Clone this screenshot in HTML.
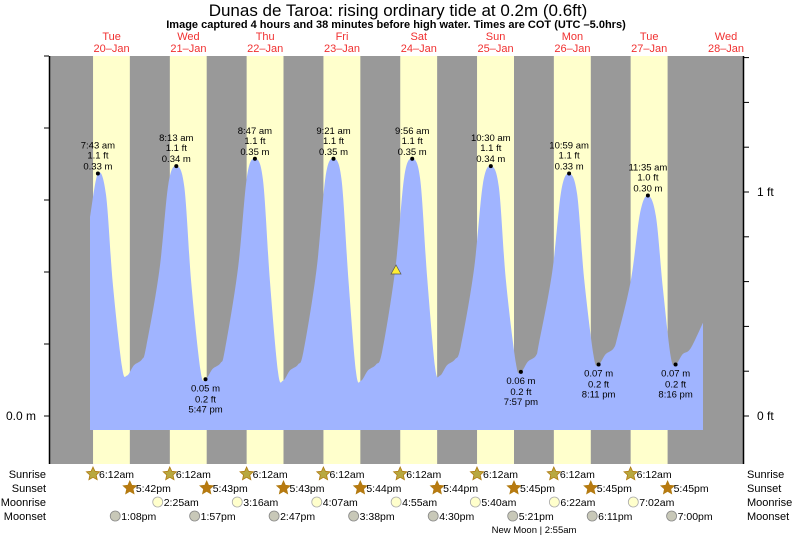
<!DOCTYPE html>
<html><head><meta charset="utf-8"><style>
body{margin:0;background:#fff;width:793px;height:537px;overflow:hidden}
svg{font-family:"Liberation Sans",sans-serif}
</style></head><body>
<svg id="s" width="793" height="537" xmlns="http://www.w3.org/2000/svg"></svg>
<script>
const s=document.getElementById('s');let h='';
const X0=73.2,D=76.8;
const xt=(d,hr)=>X0+D*(d+hr/24);
const Y=m=>416-735*m;
h+='<rect x="50" y="56" width="693" height="408" fill="#999"/>';
const sunset=[17.7,17.72,17.72,17.73,17.73,17.75,17.75,17.75];
for(let d=0;d<8;d++){const a=xt(d,6.2),b=xt(d,sunset[d]);h+=`<rect x="${a}" y="56" width="${b-a}" height="408" fill="#ffffcc"/>`;}
// tide
const peaks=[[97.9,0.33],[176.3,0.34],[254.9,0.35],[333.5,0.35],[412.2,0.35],[490.8,0.34],[569.1,0.33],[647.9,0.30]];
const lows=[[127,0.055],[205.5,0.05],[283,0.048],[361,0.048],[440,0.055],[520.9,0.06],[598.6,0.07],[675.6,0.07]];
let pts=[[90,0.27]];
for(let i=0;i<8;i++){
 const [xp,pm]=peaks[i],[xl,lm]=lows[i];
 if(i>0)pts.push([xp-8,pm-0.025]);
 pts.push([xp,pm]);pts.push([xp+8,pm-0.028]);
 pts.push([xp+15,lm+(pm-lm)*0.45]);
 pts.push([xl-5,lm+0.012]);
 pts.push([xl,lm]);
 pts.push([xl+7,lm+0.014]);
 pts.push([xl+15,lm+0.022]);
 if(i<7){const [xn,pn]=peaks[i+1];
  pts.push([xn-30,lm+0.04]);
  pts.push([xn-17,lm+(pn-lm)*0.5]);
 }else{pts.push([703,0.127]);}
}
let p=`M90,430 L${pts[0][0]},${Y(pts[0][1])}`;
for(let i=0;i<pts.length-1;i++){
 const p0=pts[Math.max(0,i-1)],p1=pts[i],p2=pts[i+1],p3=pts[Math.min(pts.length-1,i+2)];
 const c1x=p1[0]+(p2[0]-p0[0])/6,c1y=Y(p1[1])+(Y(p2[1])-Y(p0[1]))/6;
 const c2x=p2[0]-(p3[0]-p1[0])/6,c2y=Y(p2[1])-(Y(p3[1])-Y(p1[1]))/6;
 p+=` C${c1x.toFixed(1)},${c1y.toFixed(1)} ${c2x.toFixed(1)},${c2y.toFixed(1)} ${p2[0].toFixed(1)},${Y(p2[1]).toFixed(1)}`;
}
p+=' L703,430 Z';
h+=`<path d="${p}" fill="#a0b4ff"/>`;
// axes
h+='<line x1="49.5" y1="56" x2="49.5" y2="464" stroke="#000" stroke-width="1.5"/>';
h+='<line x1="743.5" y1="56" x2="743.5" y2="464" stroke="#000" stroke-width="1.5"/>';
for(let k=0;k<6;k++){const y=416-72*k;h+=`<line x1="44" y1="${y}" x2="49" y2="${y}" stroke="#000"/>`;}
for(let k=0;k<9;k++){const y=416-44.8*k;h+=`<line x1="744" y1="${y}" x2="749" y2="${y}" stroke="#000"/>`;}
h+='<text x="6" y="420" font-size="12">0.0 m</text><text x="757" y="420" font-size="12">0 ft</text><text x="757" y="196" font-size="12">1 ft</text>';
// title
h+='<text x="398" y="16" font-size="17" text-anchor="middle">Dunas de Taroa: rising  ordinary tide at 0.2m (0.6ft)</text>';
h+='<text x="396" y="28" font-size="11" font-weight="bold" text-anchor="middle">Image captured 4 hours and 38 minutes before high water. Times are COT (UTC –5.0hrs)</text>';
const dn=['Tue','Wed','Thu','Fri','Sat','Sun','Mon','Tue','Wed'];
for(let d=0;d<9;d++){const c=xt(d,12);h+=`<text x="${c}" y="40" font-size="11" fill="#f03030" text-anchor="middle">${dn[d]}</text><text x="${c}" y="52" font-size="11" fill="#f03030" text-anchor="middle">${20+d}–Jan</text>`;}
// labels
const ht=['7:43 am','8:13 am','8:47 am','9:21 am','9:56 am','10:30 am','10:59 am','11:35 am'],hf=['1.1','1.1','1.1','1.1','1.1','1.1','1.1','1.0'];
peaks.forEach(([x,m],i)=>{const y=Y(m);h+=`<circle cx="${x}" cy="${y}" r="2" fill="#000"/><g font-size="9.5" text-anchor="middle"><text x="${x}" y="${y-25}">${ht[i]}</text><text x="${x}" y="${y-15}">${hf[i]} ft</text><text x="${x}" y="${y-4}">${m.toFixed(2)} m</text></g>`;});
[[205.5,0.05,'0.05 m','5:47 pm'],[520.9,0.06,'0.06 m','7:57 pm'],[598.6,0.07,'0.07 m','8:11 pm'],[675.6,0.07,'0.07 m','8:16 pm']].forEach(([x,m,a,b])=>{const y=Y(m);h+=`<circle cx="${x}" cy="${y}" r="2" fill="#000"/><g font-size="9.5" text-anchor="middle"><text x="${x}" y="${y+12}">${a}</text><text x="${x}" y="${y+23}">0.2 ft</text><text x="${x}" y="${y+33}">${b}</text></g>`;});
h+='<polygon points="396,265 391,274 401,274" fill="#ffee33" stroke="#555" stroke-width="0.7"/>';
// bottom rows
const L=[['Sunrise',478],['Sunset',492],['Moonrise',506],['Moonset',520]];
L.forEach(([t,y])=>{h+=`<text x="46" y="${y}" font-size="11" text-anchor="end">${t}</text><text x="747" y="${y}" font-size="11">${t}</text>`;});
function star(cx,cy,fill){let pts='';for(let i=0;i<10;i++){const r=i%2?3.3:7,a=-Math.PI/2+i*Math.PI/5;pts+=`${(cx+r*Math.cos(a)).toFixed(1)},${(cy+r*Math.sin(a)).toFixed(1)} `;}return `<polygon points="${pts}" fill="${fill}" stroke="#b07a10" stroke-width="0.8"/>`;}
const ss=['5:42pm','5:43pm','5:43pm','5:44pm','5:44pm','5:45pm','5:45pm','5:45pm'];
for(let d=0;d<8;d++){const a=xt(d,6.2),b=xt(d,sunset[d]);
 h+=star(a,474,'#b8a840')+`<text x="${a+6}" y="478" font-size="10.5">6:12am</text>`;
 h+=star(b,488,'#b87a10')+`<text x="${b+6}" y="492" font-size="10.5">${ss[d]}</text>`;}
const mr=[[1,2+25/60,'2:25am'],[2,3+16/60,'3:16am'],[3,4+7/60,'4:07am'],[4,4+55/60,'4:55am'],[5,5+40/60,'5:40am'],[6,6+22/60,'6:22am'],[7,7+2/60,'7:02am']];
mr.forEach(([d,hr,t])=>{const x=xt(d,hr);h+=`<circle cx="${x}" cy="502" r="5" fill="#ffffcc" stroke="#aaa" stroke-width="0.8"/><text x="${x+6}" y="506" font-size="10.5">${t}</text>`;});
const ms=[[0,13+8/60,'1:08pm'],[1,13+57/60,'1:57pm'],[2,14+47/60,'2:47pm'],[3,15+38/60,'3:38pm'],[4,16.5,'4:30pm'],[5,17+21/60,'5:21pm'],[6,18+11/60,'6:11pm'],[7,19,'7:00pm']];
ms.forEach(([d,hr,t])=>{const x=xt(d,hr);h+=`<circle cx="${x}" cy="516" r="5" fill="#c8c8b8" stroke="#888" stroke-width="0.8"/><text x="${x+6}" y="520" font-size="10.5">${t}</text>`;});
h+='<text x="534" y="533" font-size="9.5" text-anchor="middle">New Moon | 2:55am</text>';
s.innerHTML=h;
</script>
</body></html>
